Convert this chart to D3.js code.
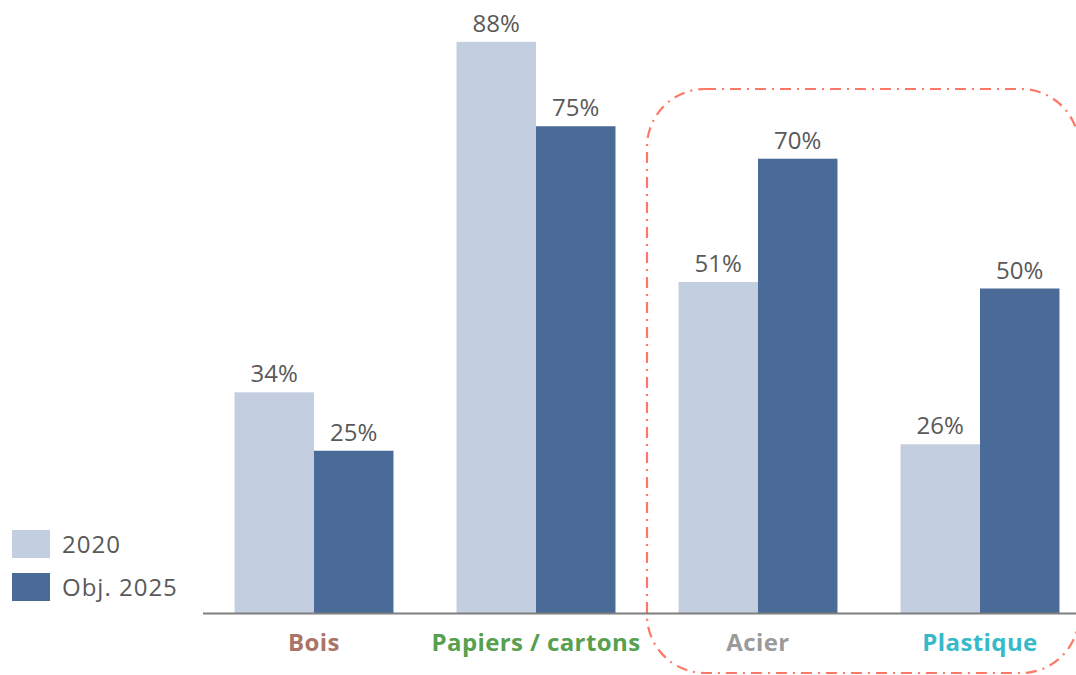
<!DOCTYPE html>
<html>
<head>
<meta charset="utf-8">
<script src="https://cdn.jsdelivr.net/npm/d3@7"></script>
<style>
  html, body { margin: 0; padding: 0; background: #fff; }
  svg { display: block; }
</style>
</head>
<body>
<svg id="chart" width="1076" height="675"></svg>
<script>
const categories = ["Bois", "Papiers / cartons", "Acier", "Plastique"];
const categoryColors = ["#aa7468", "#56a04e", "#9a9a9a", "#36b9c8"];
const seriesNames = ["2020", "Obj. 2025"];
const values2020 = [0.34, 0.88, 0.51, 0.26];
const values2025 = [0.25, 0.75, 0.70, 0.50];
const seriesColors = ["#c3cee0", "#4a6a98"];

const svg = d3.select("#chart");
const baseY = 613;
const font = "'Open Sans', 'Lato', sans-serif";

const x = d3.scaleBand().domain(categories).range([203, 1091]).paddingInner(0.284).paddingOuter(0.142);
const xs = d3.scaleBand().domain(seriesNames).range([0, x.bandwidth()]);
const y = d3.scaleLinear().domain([0, 1]).range([baseY, baseY - 649]);

const data = categories.map((c, i) => ({
  cat: c,
  vals: [
    { s: seriesNames[0], v: values2020[i], color: seriesColors[0] },
    { s: seriesNames[1], v: values2025[i], color: seriesColors[1] }
  ]
}));

// dashed highlight box
svg.append("rect")
  .attr("x", 647).attr("y", 89)
  .attr("width", 432).attr("height", 584)
  .attr("rx", 58).attr("ry", 58)
  .attr("fill", "none")
  .attr("stroke", "#ff7766")
  .attr("stroke-width", 2.2)
  .attr("stroke-dasharray", "11 6 2 6");

const g = svg.append("g");
const groups = g.selectAll("g.grp").data(data).join("g")
  .attr("class", "grp")
  .attr("transform", d => `translate(${x(d.cat)},0)`);

groups.selectAll("rect").data(d => d.vals).join("rect")
  .attr("x", d => xs(d.s))
  .attr("y", d => y(d.v))
  .attr("width", xs.bandwidth())
  .attr("height", d => baseY - y(d.v))
  .attr("fill", d => d.color);

groups.selectAll("text.val").data(d => d.vals).join("text")
  .attr("class", "val")
  .attr("x", d => xs(d.s) + xs.bandwidth() / 2)
  .attr("y", d => y(d.v) - 10)
  .attr("text-anchor", "middle")
  .attr("font-family", font)
  .attr("font-size", "24px")
  .attr("fill", "#595959")
  .text(d => Math.round(d.v * 100) + "%");

// axis
const axis = d3.axisBottom(x).tickSize(0).tickPadding(0);
const ax = svg.append("g").attr("transform", `translate(0,${baseY})`).call(axis);
ax.select(".domain").remove();
svg.append("line")
  .attr("x1", 203).attr("x2", 1076)
  .attr("y1", baseY + 0.5).attr("y2", baseY + 0.5)
  .attr("stroke", "#7f7f7f").attr("stroke-width", 2);
ax.selectAll(".tick text")
  .attr("y", 38)
  .attr("dy", 0)
  .attr("font-family", font)
  .attr("font-size", "24px")
  .attr("font-weight", "bold")
  .attr("letter-spacing", "0.4px")
  .attr("fill", (d, i) => categoryColors[i]);

// legend
const leg = svg.append("g");
seriesNames.forEach((s, i) => {
  leg.append("rect")
    .attr("x", 12).attr("y", 530 + i * 43)
    .attr("width", 38).attr("height", 28)
    .attr("fill", seriesColors[i]);
  leg.append("text")
    .attr("x", 62).attr("y", 545 + i * 43)
    .attr("dy", "0.35em")
    .attr("font-family", font)
    .attr("font-size", "24px")
    .attr("letter-spacing", "1px")
    .attr("fill", "#595959")
    .text(s);
});
</script>
</body>
</html>
